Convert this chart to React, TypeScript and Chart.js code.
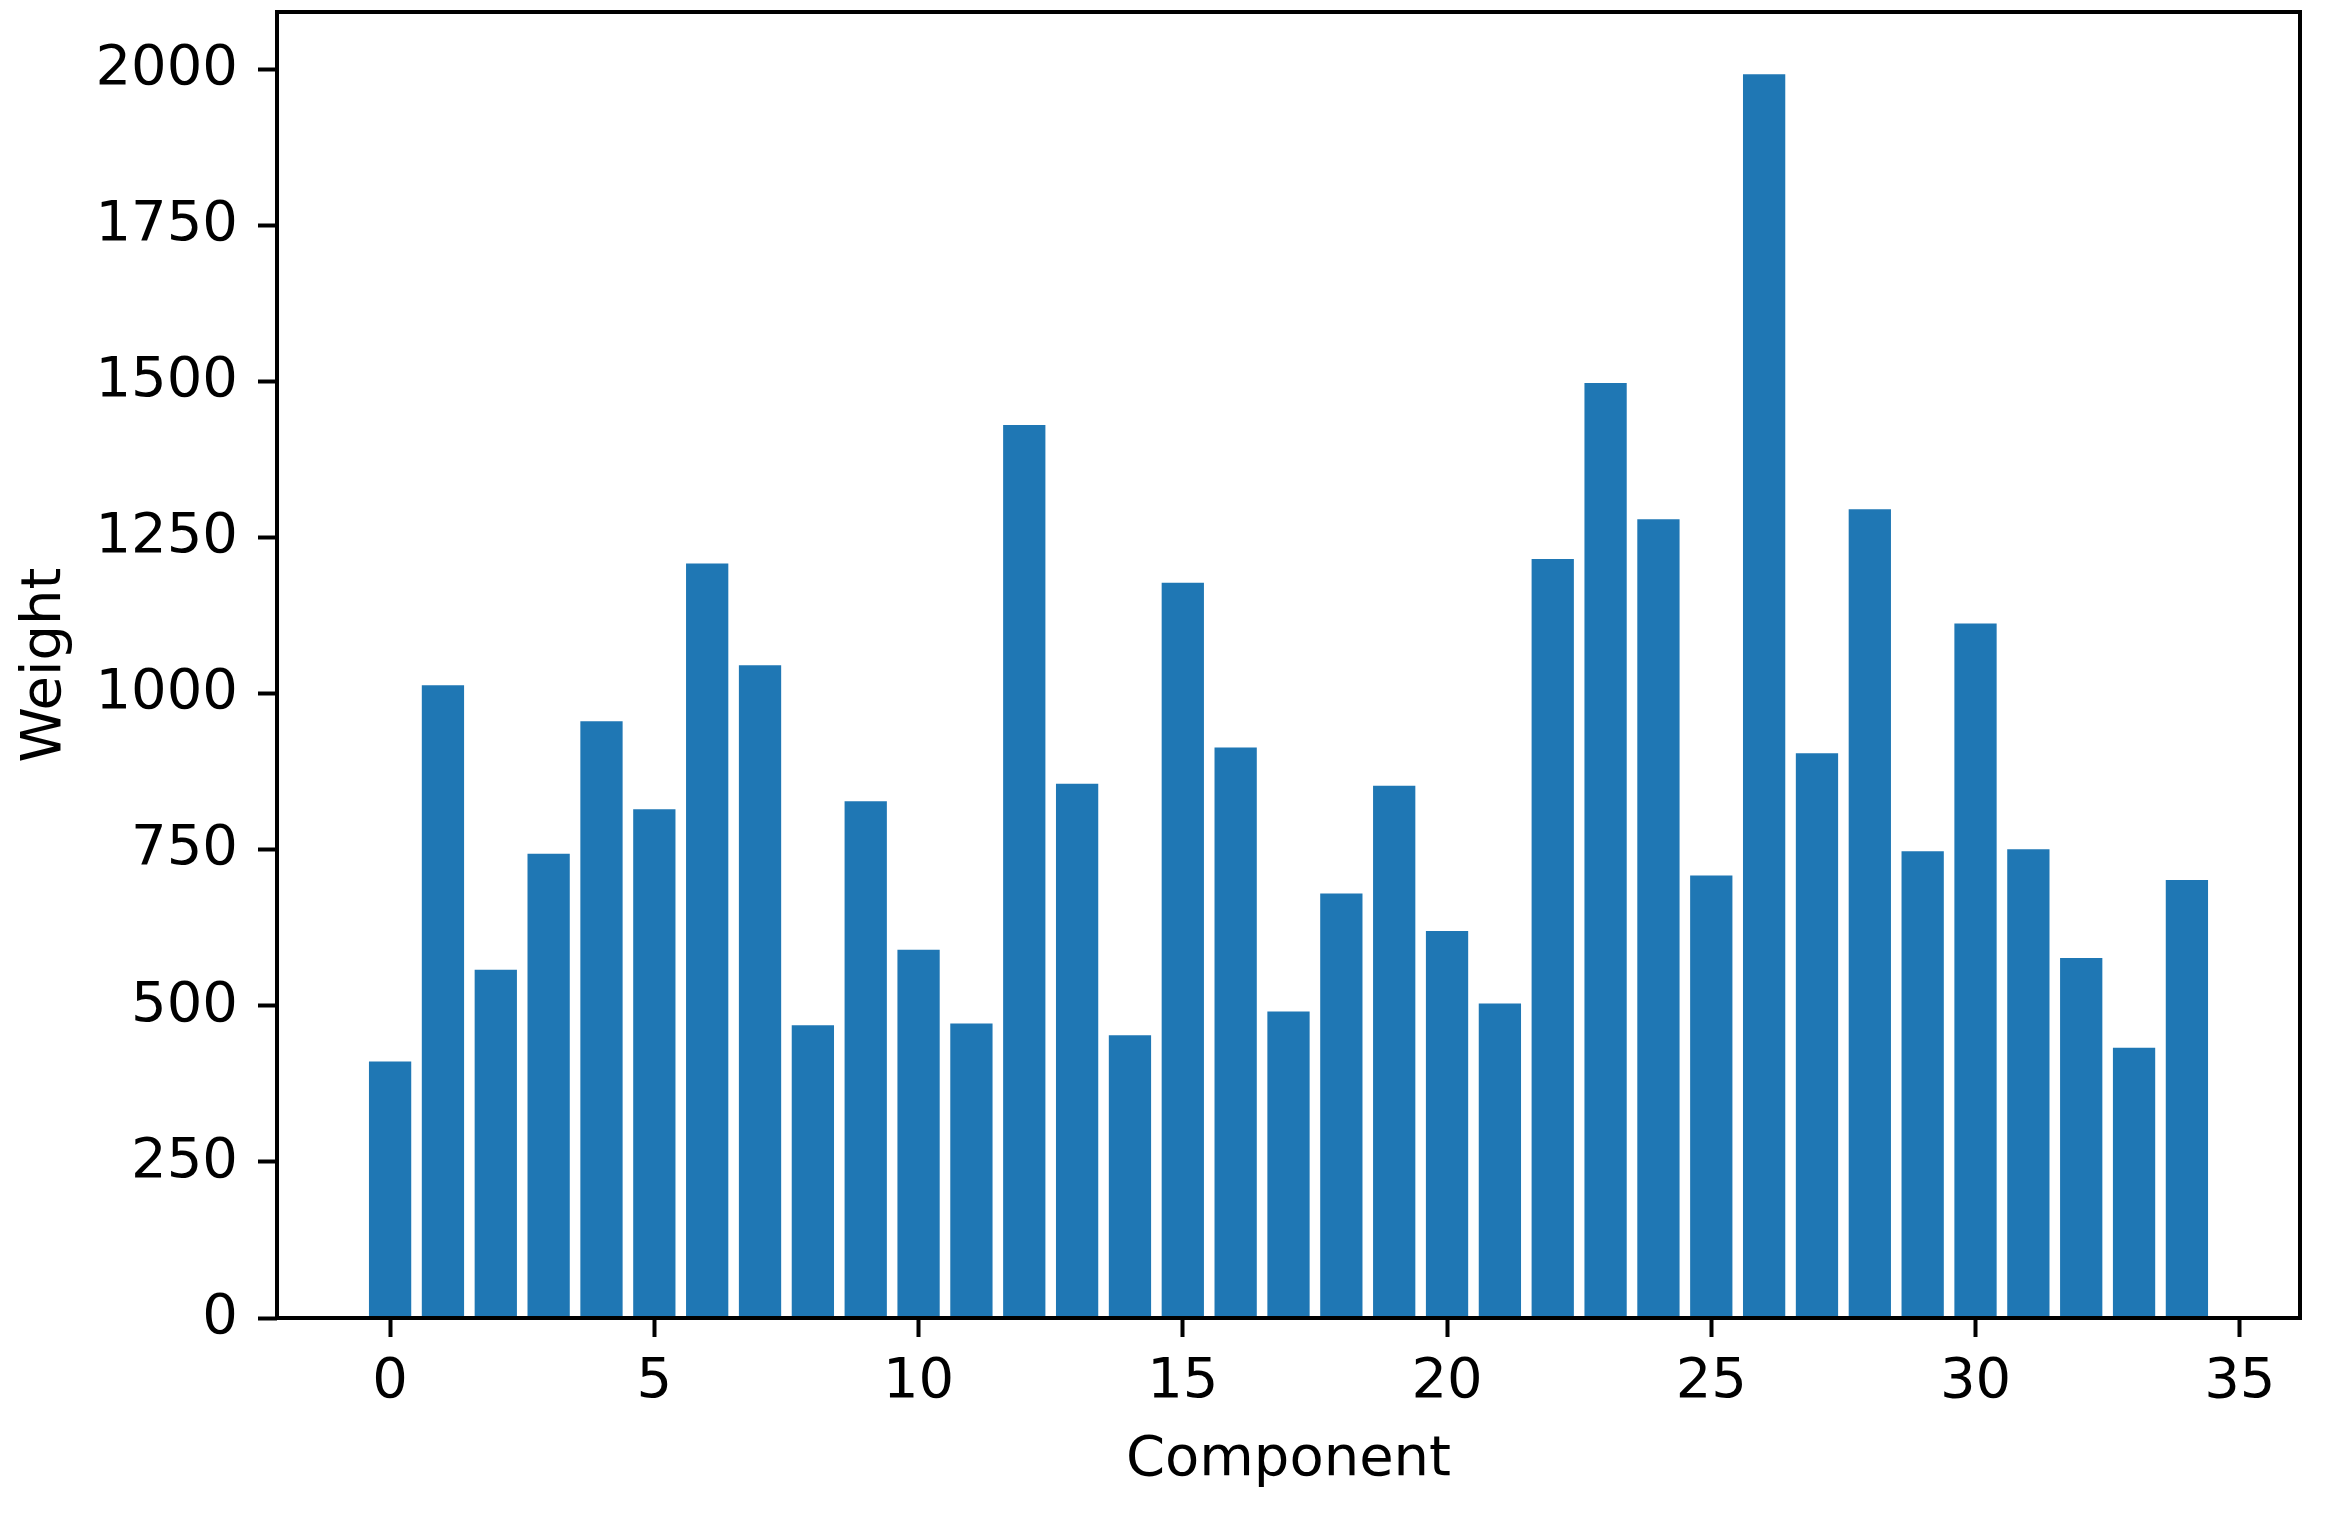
import React, { useEffect, useRef } from "react";
import { Chart, registerables } from "chart.js";

Chart.register(...registerables);

const components: number[] = [
  0, 1, 2, 3, 4, 5, 6, 7, 8, 9, 10, 11, 12, 13, 14, 15, 16, 17, 18, 19, 20, 21,
  22, 23, 24, 25, 26, 27, 28, 29, 30, 31, 32, 33, 34,
];
const weights: number[] = [
  411, 1014, 558, 744, 956, 815, 1209, 1046, 469, 828, 590, 472, 1431, 856, 453,
  1178, 914, 491, 680, 853, 620, 504, 1216, 1498, 1280, 709, 1993, 905, 1296,
  748, 1113, 751, 577, 433, 702,
];
const xTickValues: number[] = [0, 5, 10, 15, 20, 25, 30, 35];
const yTickValues: number[] = [0, 250, 500, 750, 1000, 1250, 1500, 1750, 2000];
const xLabel = "Component";
const yLabel = "Weight";

const BAR_COLOR = "#1f77b4";
const FONT = "'DejaVu Sans', sans-serif";
const W = 2336;
const H = 1520;

export default function App() {
  const ref = useRef<HTMLCanvasElement | null>(null);

  useEffect(() => {
    const canvas = ref.current;
    if (!canvas) return;

    const barW = 0.8;
    const lo = Math.min(...components) - barW / 2;
    const hi = Math.max(...components) + barW / 2;
    const xMin = lo - 0.05 * (hi - lo);
    const xMax = hi + 0.05 * (hi - lo);
    const yMax = Math.max(...weights) * 1.05;

    const frame = {
      id: "frame",
      afterDatasetsDraw(chart: any) {
        const { ctx, chartArea } = chart;
        ctx.save();
        ctx.strokeStyle = "#000";
        ctx.lineWidth = 4;
        ctx.strokeRect(
          chartArea.left,
          chartArea.top,
          chartArea.right - chartArea.left,
          chartArea.bottom - chartArea.top
        );
        ctx.restore();
      },
    };

    const fmt = (v: any) => String(v);

    const chart = new Chart(canvas, {
      type: "bar",
      data: {
        datasets: [
          {
            data: components.map((c, i) => ({ x: c, y: weights[i] })),
            backgroundColor: BAR_COLOR,
            borderWidth: 0,
            barPercentage: 1,
            categoryPercentage: barW,
          },
        ],
      },
      options: {
        responsive: false,
        animation: false,
        devicePixelRatio: 1,
        layout: { padding: { left: 0, top: 12, right: 36, bottom: 0 } },
        plugins: {
          legend: { display: false },
          tooltip: { enabled: false },
        },
        scales: {
          x: {
            type: "linear",
            offset: false,
            min: xMin,
            max: xMax,
            afterBuildTicks: (scale: any) => {
              scale.ticks = xTickValues.map((v) => ({ value: v }));
            },
            afterFit: (scale: any) => {
              scale.height = 202;
              scale.paddingLeft = 0;
              scale.paddingRight = 0;
            },
            ticks: {
              color: "#000",
              font: { family: FONT, size: 56 },
              padding: 12,
              maxRotation: 0,
              autoSkip: false,
              includeBounds: false,
              callback: fmt,
            },
            grid: {
              display: true,
              drawOnChartArea: false,
              drawTicks: true,
              tickLength: 19,
              tickWidth: 4,
              tickColor: "#000",
              offset: false,
            },
            border: { display: false },
            title: {
              display: true,
              text: xLabel,
              color: "#000",
              font: { family: FONT, size: 56 },
              padding: { top: 0, bottom: 26 },
            },
          },
          y: {
            type: "linear",
            min: 0,
            max: yMax,
            afterBuildTicks: (scale: any) => {
              scale.ticks = yTickValues.map((v) => ({ value: v }));
            },
            afterFit: (scale: any) => {
              scale.width = 277;
              scale.paddingTop = 0;
              scale.paddingBottom = 0;
            },
            ticks: {
              color: "#000",
              font: { family: FONT, size: 56 },
              padding: 20,
              autoSkip: false,
              includeBounds: false,
              callback: fmt,
            },
            grid: {
              display: true,
              drawOnChartArea: false,
              drawTicks: true,
              tickLength: 19,
              tickWidth: 4,
              tickColor: "#000",
            },
            border: { display: false },
            title: {
              display: true,
              text: yLabel,
              color: "#000",
              font: { family: FONT, size: 56 },
              padding: { top: 12, bottom: 0 },
            },
          },
        },
      },
      plugins: [frame],
    } as any);

    return () => {
      chart.destroy();
    };
  }, []);

  return (
    <canvas
      ref={ref}
      width={W}
      height={H}
      style={{ position: "absolute", left: 0, top: 0, display: "block", width: W, height: H }}
    />
  );
}
